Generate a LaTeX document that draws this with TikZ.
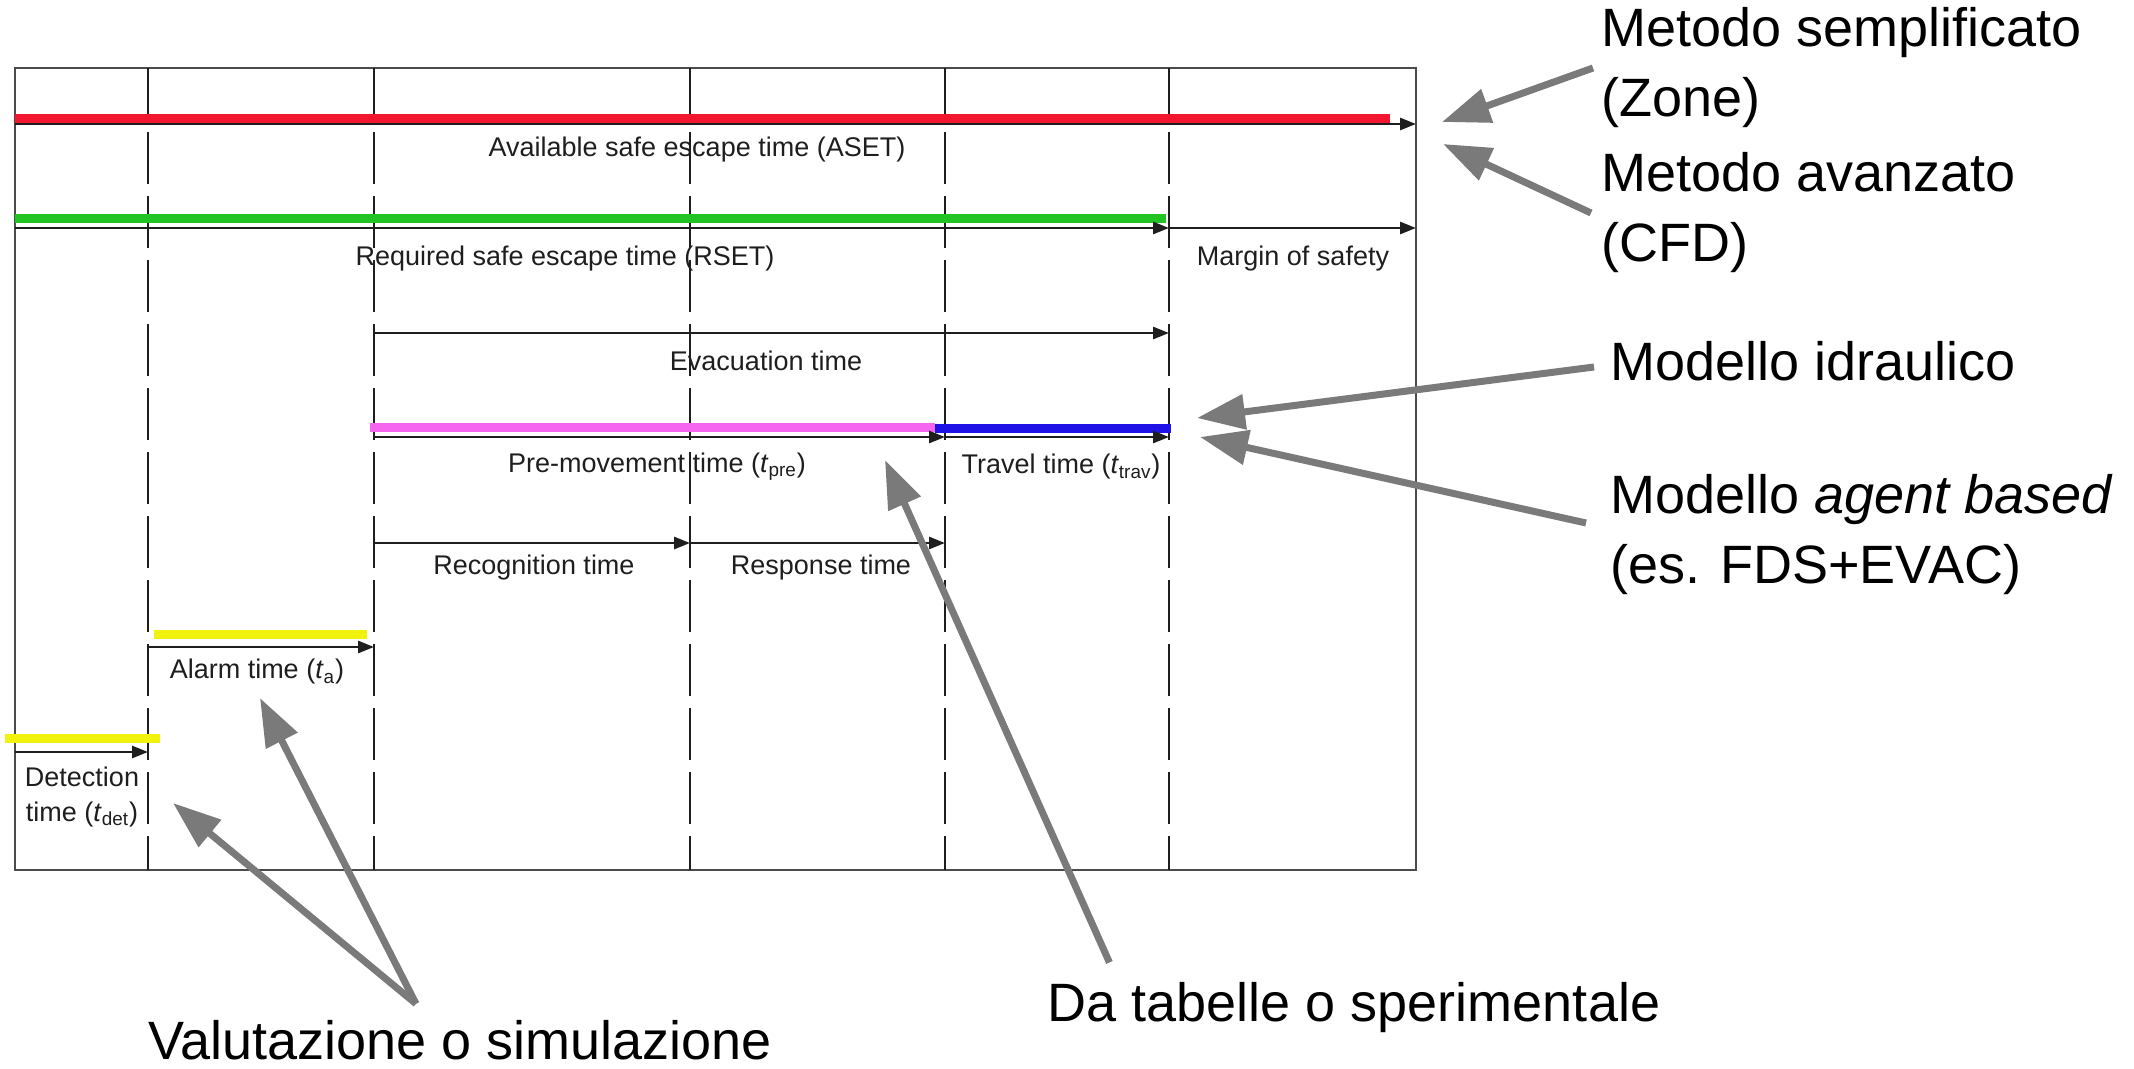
\documentclass[tikz,border=0pt]{standalone}
\usepackage{fontspec}
\setmainfont{Liberation Sans}
\usetikzlibrary{arrows.meta}
\definecolor{egressInk}{HTML}{1E1E1E}
\definecolor{egressGray}{HTML}{7A7A7A}
\definecolor{egressRed}{HTML}{F2162E}
\definecolor{egressGreen}{HTML}{22C422}
\definecolor{egressPink}{HTML}{F565F0}
\definecolor{egressBlue}{HTML}{1E12E6}
\definecolor{egressYellow}{HTML}{F2F20F}
\tikzset{
  every picture/.style={font=\fontsize{13.5}{17.5}\selectfont, text=egressInk},
  egress frame/.style={draw=egressInk!80, line width=1.3pt},
  egress phase/.style={draw=egressInk, line width=0.8pt, dash pattern=on 26pt off 6pt},
  egress span/.style={-{Triangle[length=8pt,width=6pt]}, draw=egressInk, line width=1.4pt},
  egress bar/.style={line width=4.5pt},
  egress label/.style={inner sep=0pt, align=center},
  egress note/.style={font=\fontsize{27}{35}\selectfont, text=black, inner sep=0pt, align=left},
  egress pointer/.style={-{Triangle[length=24pt,width=17pt]}, draw=egressGray, line width=3.5pt}
}
\begin{document}
\begin{tikzpicture}[x=0.5pt,y=-0.5pt]
  \useasboundingbox (0,0) rectangle (2134,1069);
  % frame and phase boundaries
  \draw[egress frame] (15,68) rectangle (1416,870);
  \foreach \x in {148,374,690,945,1169} \draw[egress phase] (\x,68) -- (\x,870);

  % ASET / RSET
  \coordinate (aset start) at (15,124); \coordinate (aset end) at (1416,124);
  \coordinate (rset start) at (15,228); \coordinate (rset end) at (1169,228); \coordinate (margin end) at (1416,228);
  \draw[egress bar, egressRed] (15,119) -- (1390,119);
  \draw[egress bar, egressGreen] (15,219) -- (1166,219);
  \draw[egress span] (aset start) -- (aset end);
  \draw[egress span] (rset start) -- (rset end);
  \draw[egress span] (rset end) -- (margin end);
  \node[egress label] (aset) at (697,150) {Available safe escape time (ASET)};
  \node[egress label] (rset) at (565,259) {Required safe escape time (RSET)};
  \node[egress label] (margin) at (1293,259) {Margin of safety};

  % evacuation
  \coordinate (evac start) at (374,333); \coordinate (evac end) at (1169,333);
  \draw[egress span] (evac start) -- (evac end);
  \node[egress label] (evac) at (766,361) {Evacuation time};

  % pre-movement and travel
  \coordinate (pre start) at (374,437); \coordinate (pre end) at (945,437); \coordinate (trav end) at (1169,437);
  \draw[egress bar, egressPink] (370,427) -- (935,427);
  \draw[egress bar, egressBlue] (935,428) -- (1171,428);
  \draw[egress span] (pre start) -- (pre end);
  \draw[egress span] (pre end) -- (trav end);
  \node[egress label] (premove) at (657,467) {Pre-movement time (\textit{t}\textsubscript{pre})};
  \node[egress label] (travel) at (1061,467) {Travel time (\textit{t}\textsubscript{trav})};

  % recognition and response
  \coordinate (rec start) at (374,543); \coordinate (rec end) at (690,543); \coordinate (resp end) at (945,543);
  \draw[egress span] (rec start) -- (rec end);
  \draw[egress span] (rec end) -- (resp end);
  \node[egress label] (recog) at (534,568) {Recognition time};
  \node[egress label] (resp) at (821,568) {Response time};

  % alarm and detection
  \coordinate (alarm start) at (148,647); \coordinate (alarm end) at (374,647);
  \coordinate (det start) at (15,752); \coordinate (det end) at (148,752);
  \draw[egress bar, egressYellow] (154,634) -- (367,634);
  \draw[egress bar, egressYellow] (5,738) -- (160,738);
  \draw[egress span] (alarm start) -- (alarm end);
  \draw[egress span] (det start) -- (det end);
  \node[egress label] (alarm) at (257,672) {Alarm time (\textit{t}\textsubscript{a})};
  \node[egress label] (detect) at (82,797) {Detection\\time (\textit{t}\textsubscript{det})};

  % method notes
  \node[egress note, anchor=west] (zone) at (1601,68) {Metodo semplificato\\(Zone)};
  \node[egress note, anchor=west] (cfd) at (1601,213) {Metodo avanzato\\(CFD)};
  \node[egress note, anchor=west] (hydraulic) at (1610,361) {Modello idraulico};
  \node[egress note, anchor=west] (agent) at (1610,535) {Modello \textit{agent based}\\(es. FDS+EVAC)};
  \node[egress note] (simul) at (460,1040) {Valutazione o simulazione};
  \node[egress note] (tables) at (1354,1008) {Da tabelle o sperimentale};

  \coordinate (zone tip) at (1442,122); \coordinate (cfd tip) at (1443,144);
  \coordinate (hyd tip) at (1197,418); \coordinate (agent tip) at (1200,437);
  \coordinate (tables tip) at (885,460);
  \coordinate (alarm tip) at (260,698); \coordinate (det tip) at (173,803);
  \draw[egress pointer] ([xshift=-4pt]zone.west) -- (zone tip);
  \draw[egress pointer] ([xshift=-5pt]cfd.west) -- (cfd tip);
  \draw[egress pointer] ([xshift=-8pt,yshift=-3pt]hydraulic.west) -- (hyd tip);
  \draw[egress pointer] ([xshift=-12pt,yshift=6pt]agent.west) -- (agent tip);
  \draw[egress pointer] ([xshift=31pt,yshift=10pt]tables.north west) -- (tables tip);
  \draw[egress pointer] ([xshift=-22pt,yshift=8pt]simul.north) -- (alarm tip);
  \draw[egress pointer] ([xshift=-22pt,yshift=8pt]simul.north) -- (det tip);
\end{tikzpicture}
\end{document}
